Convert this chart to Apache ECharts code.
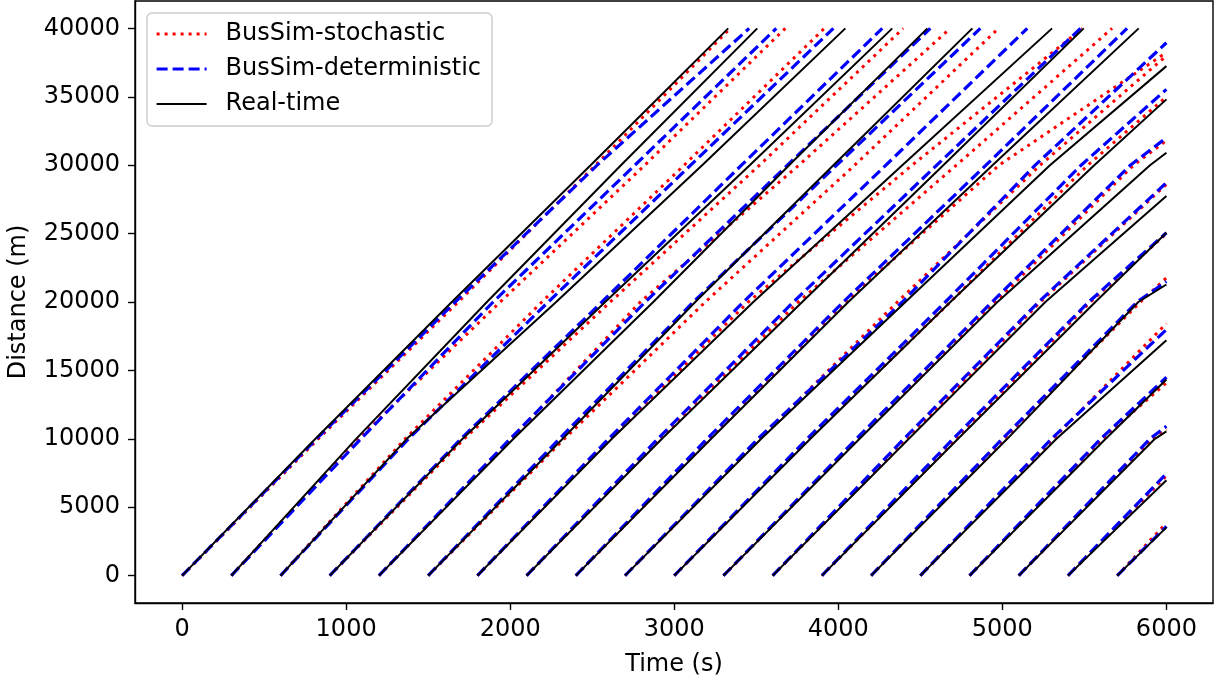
<!DOCTYPE html>
<html>
<head>
<meta charset="utf-8">
<script src="https://cdn.jsdelivr.net/npm/echarts@6/dist/echarts.min.js"></script>
<style>
html,body{margin:0;padding:0;background:#fff;}
#chart{width:1218px;height:681px;}
</style>
</head>
<body>
<div id="chart"></div>
<script>
// Distances (m) at which times are read for every trajectory
const checkpointDistances = [0, 10000, 20000, 30000, 40000];
const xTicks = [0, 1000, 2000, 3000, 4000, 5000, 6000];
const yTicks = [0, 5000, 10000, 15000, 20000, 25000, 30000, 35000, 40000];
const endTime = 6000;

// Real-time: time (s) at each checkpoint distance, one row per bus
const realTimeTimes = [
  [0, 813, 1644, 2490, 3329],
  [300, 1061, 1858, 2675, 3506],
  [600, 1370, 2280, 3170, 4043],
  [900, 1710, 2579, 3460, 4329],
  [1200, 2020, 2872, 3700, 4543],
  [1500, 2320, 3128, 3970, 4817],
  [1800, 2620, 3482, 4390, 5303],
  [2100, 2925, 3780, 4640, 5496],
  [2400, 3225, 4061, 4940, 5831],
  [2700, 3530, 4409, 5290],
  [3000, 3830, 4683, 5560],
  [3300, 4130, 4970, 5900],
  [3600, 4430, 5262],
  [3900, 4730, 5567],
  [4200, 5030, 5829],
  [4500, 5330],
  [4800, 5630],
  [5100, 5930],
  [5400],
  [5700]
];
// Real-time: distance (m) reached at t = 6000 s (null = reached 40000 m before)
const realTimeEnd = [null,null,null,null,null,null,null,null,null,
  37240, 34810, 30910, 27740, 25060, 21280, 17210, 14330, 10550, 6970, 3530];

// BusSim-deterministic
const deterministicTimes = [
  [0, 820, 1665, 2530, 3457],
  [300, 1090, 1896, 2760, 3622],
  [600, 1380, 2232, 3100, 3970],
  [900, 1700, 2559, 3410, 4268],
  [1200, 2000, 2823, 3690, 4561],
  [1500, 2300, 3116, 3990, 4866],
  [1800, 2600, 3421, 4290, 5152],
  [2100, 2900, 3726, 4600, 5476],
  [2400, 3200, 4030, 4900, 5760],
  [2700, 3510, 4390, 5200],
  [3000, 3810, 4652, 5480],
  [3300, 4110, 4937, 5780],
  [3600, 4400, 5221],
  [3900, 4700, 5526],
  [4200, 5000, 5821],
  [4500, 5300],
  [4800, 5600],
  [5100, 5900],
  [5400],
  [5700]
];
const deterministicEnd = [null,null,null,null,null,null,null,null,null,
  38950, 35540, 32000, 28720, 25060, 21500, 17990, 14500, 10920, 7460, 3600];

// BusSim-stochastic
const stochasticTimes = [
  [0, 830, 1683, 2520, 3341],
  [300, 1075, 1939, 2820, 3677],
  [600, 1360, 2193, 3060, 3915],
  [900, 1720, 2610, 3520, 4396],
  [1200, 2010, 2793, 3760, 4683],
  [1500, 2330, 3189, 4100, 4977],
  [1800, 2610, 3451, 4450, 5488],
  [2100, 2915, 3756, 4720, 5669],
  [2400, 3215, 4043, 4980],
  [2700, 3520, 4360, 5230],
  [3000, 3820, 4683, 5520],
  [3300, 4120, 4957, 5800],
  [3600, 4420, 5232],
  [3900, 4720, 5537],
  [4200, 5010, 5841],
  [4500, 5310],
  [4800, 5610],
  [5100, 5910],
  [5400],
  [5700]
];
const stochasticEnd = [null,null,null,null,null,null,null,null,
  38240, 38000, 35000, 31800, 28600, 25000, 21770, 18430, 14100, 10700, 7300, 3850];

function buildPoints(times, end) {
  const pts = times.map((t, i) => [t, checkpointDistances[i]]);
  if (end !== null && end !== undefined) pts.push([endTime, end]);
  return pts;
}

const FONT = 'DejaVu Sans';
const FS = 24;
const series = [];
function addGroup(name, timesArr, endArr, style, z) {
  timesArr.forEach((times, i) => {
    series.push({
      name: name, type: 'line', showSymbol: false, symbol: 'none',
      data: buildPoints(times, endArr[i]),
      lineStyle: style, itemStyle: {color: style.color},
      z: z, silent: true, animation: false
    });
  });
}
addGroup('BusSim-stochastic', stochasticTimes, stochasticEnd,
  {color: '#ff0000', width: 3, type: [3, 5]}, 2);
addGroup('BusSim-deterministic', deterministicTimes, deterministicEnd,
  {color: '#0000ff', width: 3.2, type: [11, 5]}, 3);
addGroup('Real-time', realTimeTimes, realTimeEnd,
  {color: '#000000', width: 2, type: 'solid'}, 4);

const chart = echarts.init(document.getElementById('chart'), null, {renderer: 'canvas'});
chart.setOption({
  animation: false,
  backgroundColor: '#ffffff',
  textStyle: {fontFamily: FONT},
  grid: {left: 135, top: 1, width: 1078, height: 602, show: true,
         outerBoundsMode: 'none', containLabel: false,
         borderColor: '#000', borderWidth: 1.4, backgroundColor: 'transparent'},
  legend: {
    data: ['BusSim-stochastic', 'BusSim-deterministic', 'Real-time'],
    orient: 'vertical', left: 147, top: 13,
    itemWidth: 50, itemHeight: 14, itemGap: 11,
    padding: [9, 11, 10, 8],
    itemStyle: {opacity: 0},
    lineStyle: {width: 'inherit'},
    borderColor: '#cccccc', borderWidth: 1.4, borderRadius: 5,
    backgroundColor: 'rgba(255,255,255,0.8)',
    textStyle: {fontFamily: FONT, fontSize: FS, lineHeight: 24, color: '#000', padding: [0, 0, 0, 14]}
  },
  xAxis: {
    type: 'value', min: -287, max: 6284,
    name: 'Time (s)', nameLocation: 'middle', nameGap: 50,
    nameTextStyle: {fontFamily: FONT, fontSize: FS, color: '#000'},
    axisLine: {show: true, onZero: false, lineStyle: {color: '#000', width: 1.4}},
    axisTick: {show: true, length: 7, lineStyle: {color: '#000', width: 1.4}, customValues: xTicks},
    axisLabel: {fontFamily: FONT, fontSize: FS, color: '#000', margin: 15, customValues: xTicks,
                formatter: v => String(v)},
    splitLine: {show: false}
  },
  yAxis: {
    type: 'value', min: -2000, max: 42000,
    name: 'Distance (m)', nameLocation: 'middle', nameGap: 104, nameRotate: 90,
    nameTextStyle: {fontFamily: FONT, fontSize: FS, color: '#000'},
    axisLine: {show: true, onZero: false, lineStyle: {color: '#000', width: 1.4}},
    axisTick: {show: true, length: 7, lineStyle: {color: '#000', width: 1.4}, customValues: yTicks},
    axisLabel: {fontFamily: FONT, fontSize: FS, color: '#000', margin: 15, customValues: yTicks,
                formatter: v => String(v)},
    splitLine: {show: false}
  },
  series: series
});
</script>
</body>
</html>
